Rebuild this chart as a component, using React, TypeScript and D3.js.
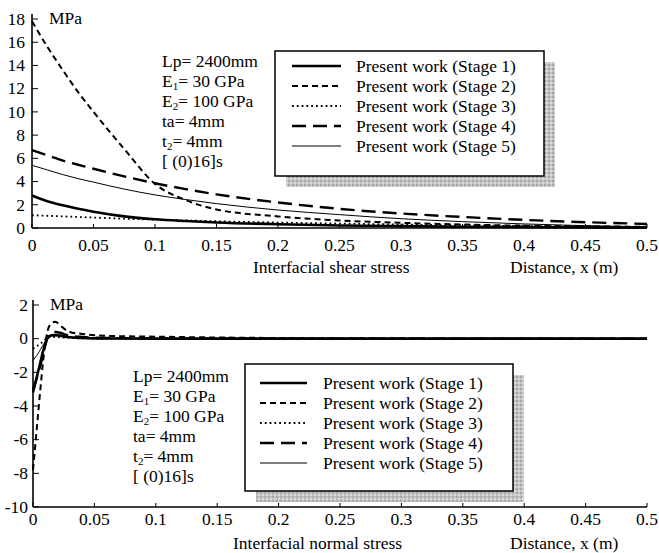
import * as d3 from "d3";

const W = 659;
const H = 553;

const stageNames = [
  "Present work (Stage 1)",
  "Present work (Stage 2)",
  "Present work (Stage 3)",
  "Present work (Stage 4)",
  "Present work (Stage 5)",
];

// interfacial shear stress (MPa) vs distance x (m)
const shearX = [0, 0.0125, 0.025, 0.0375, 0.05, 0.075, 0.1, 0.125, 0.15, 0.2, 0.25, 0.3, 0.35, 0.4, 0.45, 0.5];
const shearStage1 = [2.8, 2.3, 1.95, 1.65, 1.4, 1.0, 0.75, 0.6, 0.48, 0.32, 0.22, 0.16, 0.11, 0.08, 0.05, 0.03];
const shearStage2 = [17.8, 15.6, 13.6, 11.7, 10.0, 6.8, 3.8, 2.4, 1.6, 1.0, 0.65, 0.45, 0.3, 0.2, 0.15, 0.1];
const shearStage3 = [1.1, 1.05, 1.0, 0.95, 0.9, 0.8, 0.72, 0.65, 0.58, 0.47, 0.38, 0.3, 0.23, 0.17, 0.12, 0.08];
const shearStage4 = [6.7, 6.25, 5.8, 5.45, 5.1, 4.45, 3.85, 3.35, 2.9, 2.2, 1.65, 1.25, 0.95, 0.7, 0.5, 0.35];
const shearStage5 = [5.4, 5.0, 4.6, 4.25, 3.95, 3.35, 2.85, 2.45, 2.1, 1.55, 1.15, 0.8, 0.55, 0.35, 0.2, 0.1];

// interfacial normal stress (MPa) vs distance x (m)
const normalX = [0, 0.002, 0.004, 0.006, 0.008, 0.01, 0.012, 0.015, 0.018, 0.022, 0.026, 0.03, 0.04, 0.05, 0.07, 0.1, 0.15, 0.2, 0.3, 0.4, 0.5];
const normalStage1 = [-3.2, -2.6, -2.0, -1.4, -0.8, -0.3, 0.05, 0.2, 0.22, 0.18, 0.12, 0.08, 0.04, 0.02, 0.01, 0, 0, 0, 0, 0, 0];
const normalStage2 = [-7.8, -6.2, -4.6, -3.0, -1.5, -0.3, 0.5, 0.9, 1.0, 0.8, 0.55, 0.4, 0.28, 0.2, 0.15, 0.12, 0.07, 0.04, 0.02, 0.01, 0];
const normalStage3 = [-0.6, -0.5, -0.4, -0.3, -0.18, -0.05, 0.05, 0.1, 0.1, 0.08, 0.06, 0.04, 0.02, 0.01, 0, 0, 0, 0, 0, 0, 0];
const normalStage4 = [-3.0, -2.6, -2.1, -1.6, -1.0, -0.4, 0.1, 0.35, 0.4, 0.35, 0.25, 0.18, 0.1, 0.06, 0.03, 0.02, 0.01, 0, 0, 0, 0];
const normalStage5 = [-1.3, -1.1, -0.9, -0.65, -0.4, -0.15, 0.05, 0.15, 0.17, 0.14, 0.1, 0.07, 0.03, 0.02, 0.01, 0, 0, 0, 0, 0, 0];

const xTicks = [0, 0.05, 0.1, 0.15, 0.2, 0.25, 0.3, 0.35, 0.4, 0.45, 0.5];
const shearTicks = [0, 2, 4, 6, 8, 10, 12, 14, 16, 18];
const normalTicks = [-10, -8, -6, -4, -2, 0, 2];

const styles = [
  { width: 2.6, dash: undefined },
  { width: 2, dash: "6,4" },
  { width: 1.8, dash: "1.8,3" },
  { width: 2.4, dash: "14,7" },
  { width: 1, dash: undefined },
];

const FONT = "Liberation Serif";
const FS = 17.5;

const annRows: [string, string, string][] = [
  ["Lp= 2400mm", "", ""],
  ["E", "1", "= 30 GPa"],
  ["E", "2", "= 100 GPa"],
  ["ta= 4mm", "", ""],
  ["t", "2", "= 4mm"],
  ["[ (0)16]s", "", ""],
];

interface LegendBox {
  x: number;
  y: number;
  w: number;
  h: number;
  line0: number;
  line1: number;
  textX: number;
  row0: number;
}

interface PanelProps {
  xRange: [number, number];
  yRange: [number, number];
  yDomain: [number, number];
  yTicks: number[];
  xs: number[];
  series: number[][];
  xLabelY: number;
  yLabelX: number;
  title: string;
  titleX: number;
  titleY: number;
  annX: number;
  annY: number;
  legend: LegendBox;
}

function Panel(p: PanelProps) {
  const x = d3.scaleLinear().domain([0, 0.5]).range(p.xRange);
  const y = d3.scaleLinear().domain(p.yDomain).range(p.yRange);
  const line = d3
    .line<number>()
    .x((_, i) => x(p.xs[i]))
    .y((d) => y(d))
    .curve(d3.curveMonotoneX);
  const x0 = p.xRange[0];
  const yb = p.yRange[0];
  const L = p.legend;

  return (
    <g>
      {p.series.map((s, i) => (
        <path
          key={i}
          d={line(s) || ""}
          fill="none"
          stroke="#000"
          strokeWidth={styles[i].width}
          strokeDasharray={styles[i].dash}
        />
      ))}

      {/* axes */}
      <line x1={x0} x2={x0} y1={p.yRange[1] - 5} y2={yb} stroke="#000" strokeWidth={1.6} />
      <line x1={x0} x2={p.xRange[1]} y1={yb} y2={yb} stroke="#000" strokeWidth={1.6} />
      {p.yTicks.map((t) => (
        <g key={t}>
          <line x1={x0} x2={x0 + 6} y1={y(t)} y2={y(t)} stroke="#000" strokeWidth={1} />
          <text x={p.yLabelX} y={y(t)} dy="0.33em" textAnchor="end">
            {t}
          </text>
        </g>
      ))}
      {xTicks.map((t) => (
        <g key={t}>
          <line x1={x(t)} x2={x(t)} y1={yb} y2={yb - 4} stroke="#000" strokeWidth={1} />
          <text x={x(t)} y={p.xLabelY} textAnchor="middle">
            {String(t)}
          </text>
        </g>
      ))}
      <text x={x0 + 17} y={p.yRange[1] + 5}>
        MPa
      </text>
      <text x={p.titleX} y={p.titleY}>
        {p.title}
      </text>
      <text x={510} y={p.titleY}>
        Distance, x (m)
      </text>

      {annRows.map((r, i) => (
        <text key={i} x={p.annX} y={p.annY + i * 20}>
          {r[0]}
          {r[1] && (
            <>
              <tspan fontSize={11} dy={3}>
                {r[1]}
              </tspan>
              <tspan dy={-3}>{r[2]}</tspan>
            </>
          )}
        </text>
      ))}

      {/* legend with shadow */}
      <rect x={L.x + 11} y={L.y + 11} width={L.w} height={L.h} fill="url(#shade)" />
      <rect x={L.x} y={L.y} width={L.w} height={L.h} fill="#fff" stroke="#000" strokeWidth={1.5} />
      {stageNames.map((name, i) => (
        <g key={name}>
          <line
            x1={L.line0}
            x2={L.line1}
            y1={L.row0 + i * 20}
            y2={L.row0 + i * 20}
            stroke="#000"
            strokeWidth={styles[i].width}
            strokeDasharray={styles[i].dash}
          />
          <text x={L.textX} y={L.row0 + i * 20 + 6}>
            {name}
          </text>
        </g>
      ))}
    </g>
  );
}

export default function App() {
  return (
    <div style={{ position: "absolute", left: 0, top: 0 }}>
      <svg width={W} height={H} style={{ display: "block", background: "#fff", fontFamily: FONT, fontSize: FS }}>
        <defs>
          <pattern id="shade" width={4} height={4} patternUnits="userSpaceOnUse">
            <rect width={4} height={4} fill="#c4c4c4" />
            <rect width={2} height={2} fill="#a9a9a9" />
            <rect x={2} y={2} width={2} height={2} fill="#dadada" />
          </pattern>
        </defs>
        <Panel
          xRange={[32, 647]}
          yRange={[228, 19]}
          yDomain={[0, 18]}
          yTicks={shearTicks}
          xs={shearX}
          series={[shearStage1, shearStage2, shearStage3, shearStage4, shearStage5]}
          xLabelY={251}
          yLabelX={25}
          title="Interfacial shear stress"
          titleX={253}
          titleY={273}
          annX={162}
          annY={67}
          legend={{ x: 275, y: 51, w: 269, h: 125, line0: 292, line1: 341, textX: 356, row0: 66 }}
        />
        <Panel
          xRange={[33, 647]}
          yRange={[507, 305]}
          yDomain={[-10, 2]}
          yTicks={normalTicks}
          xs={normalX}
          series={[normalStage1, normalStage2, normalStage3, normalStage4, normalStage5]}
          xLabelY={525}
          yLabelX={28}
          title="Interfacial normal stress"
          titleX={233}
          titleY={549}
          annX={133}
          annY={382}
          legend={{ x: 245, y: 364, w: 268, h: 127, line0: 260, line1: 307, textX: 323, row0: 383 }}
        />
      </svg>
    </div>
  );
}
